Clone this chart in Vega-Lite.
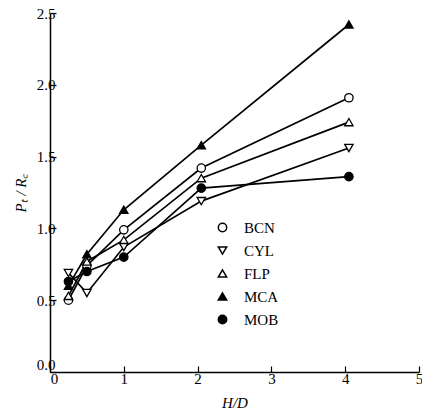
{
  "$schema": "https://vega.github.io/schema/vega-lite/v6.json",
  "width": 369,
  "height": 359,
  "autosize": "none",
  "padding": {"left": 50, "top": 13, "right": 3, "bottom": 45},
  "background": "white",
  "config": {"view": {"stroke": null}},
  "data": {"values": [
    {"s": "BCN", "x": 0.25, "y": 0.50}, {"s": "BCN", "x": 0.5, "y": 0.74}, {"s": "BCN", "x": 1.0, "y": 0.99}, {"s": "BCN", "x": 2.05, "y": 1.42}, {"s": "BCN", "x": 4.05, "y": 1.91},
    {"s": "CYL", "x": 0.25, "y": 0.69}, {"s": "CYL", "x": 0.5, "y": 0.55}, {"s": "CYL", "x": 1.0, "y": 0.87}, {"s": "CYL", "x": 2.05, "y": 1.19}, {"s": "CYL", "x": 4.05, "y": 1.56},
    {"s": "FLP", "x": 0.25, "y": 0.53}, {"s": "FLP", "x": 0.5, "y": 0.77}, {"s": "FLP", "x": 1.0, "y": 0.92}, {"s": "FLP", "x": 2.05, "y": 1.35}, {"s": "FLP", "x": 4.05, "y": 1.74},
    {"s": "MCA", "x": 0.25, "y": 0.60}, {"s": "MCA", "x": 0.5, "y": 0.82}, {"s": "MCA", "x": 1.0, "y": 1.13}, {"s": "MCA", "x": 2.05, "y": 1.58}, {"s": "MCA", "x": 4.05, "y": 2.42},
    {"s": "MOB", "x": 0.25, "y": 0.63}, {"s": "MOB", "x": 0.5, "y": 0.70}, {"s": "MOB", "x": 1.0, "y": 0.80}, {"s": "MOB", "x": 2.05, "y": 1.28}, {"s": "MOB", "x": 4.05, "y": 1.36}
  ]},
  "encoding": {
    "x": {"field": "x", "type": "quantitative", "scale": {"domain": [0, 5], "nice": false},
      "axis": {"title": "H/D", "titleFont": "Liberation Serif", "titleFontStyle": "italic", "titleFontWeight": "normal", "titleFontSize": 15, "titlePadding": 9,
        "values": [0, 1, 2, 3, 4, 5], "format": "d", "labelFont": "Liberation Serif", "labelFontSize": 15, "labelColor": "black", "labelPadding": 5,
        "labelOffset": {"condition": {"test": "datum.value === 0", "value": 4}, "value": 0},
        "grid": false, "domainColor": "black", "domainWidth": 1.5, "tickColor": "black", "tickSize": -6, "tickWidth": 1.2, "labelFlush": false}},
    "y": {"field": "y", "type": "quantitative", "scale": {"domain": [0, 2.5], "nice": false},
      "axis": {"title": "Pₜ / R꜀", "titleFont": "Liberation Serif", "titleFontStyle": "italic", "titleFontWeight": "normal", "titleFontSize": 15, "titlePadding": 8,
        "values": [0, 0.5, 1, 1.5, 2, 2.5], "format": ".1f", "labelFont": "Liberation Serif", "labelFontSize": 15, "labelColor": "black", "labelPadding": 1,
        "grid": false, "domainColor": "black", "domainWidth": 1.5, "tickColor": "black", "tickSize": -6, "tickWidth": 1.2, "labelFlush": false,
        "labelOffset": {"condition": {"test": "datum.value === 0", "value": -8}, "value": 0}}}
  },
  "layer": [
    {"mark": {"type": "line", "color": "black", "strokeWidth": 1.7}, "encoding": {"detail": {"field": "s"}}},
    {"mark": {"type": "point", "filled": true, "stroke": "black", "strokeWidth": 1.3, "size": 70, "opacity": 1},
      "encoding": {
        "shape": {"field": "s", "type": "nominal", "scale": {"domain": ["BCN", "CYL", "FLP", "MCA", "MOB"], "range": ["circle", "triangle-down", "triangle-up", "triangle-up", "circle"]},
          "legend": {"title": null, "orient": "none", "legendX": 165, "legendY": 207, "labelFont": "Liberation Serif", "labelFontSize": 15, "labelColor": "black", "symbolSize": 70, "rowPadding": 7, "labelOffset": 14,
            "encode": {"symbols": {"update": {"stroke": {"value": "black"}, "strokeWidth": {"value": 1.3}, "opacity": {"value": 1}}}}}},
        "fill": {"field": "s", "type": "nominal", "scale": {"domain": ["BCN", "CYL", "FLP", "MCA", "MOB"], "range": ["white", "white", "white", "black", "black"]},
          "legend": {"title": null, "orient": "none", "legendX": 165, "legendY": 207, "labelFont": "Liberation Serif", "labelFontSize": 15, "labelColor": "black", "symbolSize": 70, "rowPadding": 7, "labelOffset": 14,
            "encode": {"symbols": {"update": {"stroke": {"value": "black"}, "strokeWidth": {"value": 1.3}, "opacity": {"value": 1}}}}}}
      }}
  ]
}
